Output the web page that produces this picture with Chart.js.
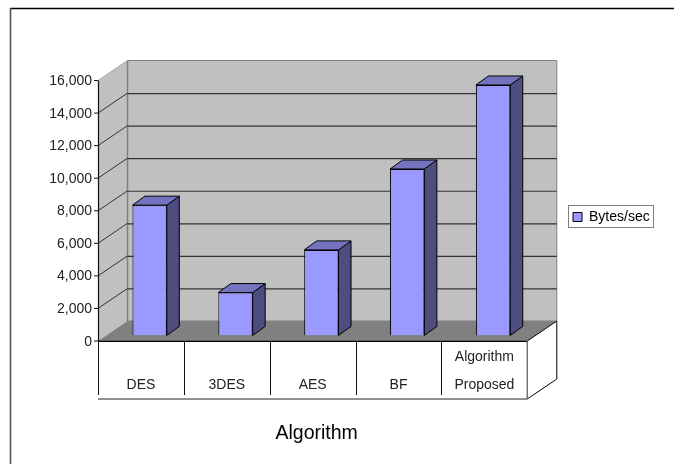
<!DOCTYPE html>
<html><head><meta charset="utf-8">
<style>html,body{margin:0;padding:0;background:#fff}#w{width:674px;height:464px;position:relative}</style>
<script src="https://cdn.jsdelivr.net/npm/chart.js@4"></script>
</head><body><div id="w"><canvas id="c" width="674" height="464"></canvas></div>
<script>
const categories = [['', 'DES'], ['', '3DES'], ['', 'AES'], ['', 'BF'], ['Algorithm', 'Proposed']];
const bytesPerSec = [8000, 2630, 5250, 10220, 15380];
const yTicks = [0, 2000, 4000, 6000, 8000, 10000, 12000, 14000, 16000];
const seriesName = 'Bytes/sec';
const axisTitle = 'Algorithm';

const DX = 29.5, DY = -20;      // wall depth
const BX = 8.7, BY = -5.6;      // bar front-plane shift
const SX = 12.5, SY = -9;       // bar side depth

function poly(ctx, pts, fill, stroke, lw) {
  ctx.beginPath();
  pts.forEach((p, i) => i ? ctx.lineTo(p[0], p[1]) : ctx.moveTo(p[0], p[1]));
  ctx.closePath();
  if (fill) { ctx.fillStyle = fill; ctx.fill(); }
  if (stroke) { ctx.strokeStyle = stroke; ctx.lineWidth = lw || 1; ctx.stroke(); }
}
function line(ctx, x1, y1, x2, y2, c, lw) {
  ctx.beginPath(); ctx.moveTo(x1, y1); ctx.lineTo(x2, y2);
  ctx.strokeStyle = c; ctx.lineWidth = lw || 1; ctx.stroke();
}
const place = {
  id: 'place',
  afterLayout(chart) {
    const l = chart.legend;
    l.width = 86; l.height = 23;
    l.left = 568; l.right = l.left + l.width; l.top = 205; l.bottom = l.top + l.height;
    chart.scales.x.right += 8;   // centres the axis title under the 3D floor
  }
};
const scene = {
  id: 'scene',
  beforeDraw(chart) {
    const c = chart.ctx, a = chart.chartArea, xs = chart.scales.x, ys = chart.scales.y;
    const L = a.left, R = a.right, T = ys.getPixelForValue(16000), B = ys.getPixelForValue(0);
    c.save();
    // chart frame
    line(c, 10, 8.5, 674, 8.5, '#000', 1.4);
    line(c, 10.5, 8, 10.5, 464, '#555', 1.6);
    // walls and floor
    poly(c, [[L + DX, T + DY], [R + DX, T + DY], [R + DX, B + DY], [L + DX, B + DY]], '#c0c0c0', '#808080', 1);
    poly(c, [[L, T], [L + DX, T + DY], [L + DX, B + DY], [L, B]], '#c0c0c0', null);
    line(c, L, T, L + DX, T + DY, '#a8a8a8', 1);
    poly(c, [[L, B], [L + DX, B + DY], [R + DX, B + DY], [R, B]], '#808080', null);
    line(c, L + DX, T + DY, L + DX, B + DY, '#808080', 1.5);
    // gridlines
    yTicks.forEach(v => {
      if (v === 0 || v === 16000) return;
      const y = ys.getPixelForValue(v);
      line(c, L, y, L + DX, y + DY, '#333', 1);
      line(c, L + DX, y + DY + .5, R + DX, y + DY + .5, '#333', 1.2);
    });
    // category table
    const W = xs.getPixelForValue(0) - L;
    poly(c, [[R, B], [R + DX, B + DY], [R + DX, B + DY + 58], [R, B + 58]], '#fff', '#000', 1);
    line(c, L, B + .3, R, B + .3, '#000', 1.2);
    line(c, L, B + 58, R, B + 58, '#222', 1);
    categories.forEach((_, i) => {
      const x = Math.round(xs.getPixelForValue(i) - W) + .5;
      line(c, x, B, x, B + 54, '#111', 1);
    });
    line(c, R, B, R, B + 58, '#808080', 1);
    line(c, L + .5, T, L + .5, B, '#111', 1.2);
    yTicks.forEach(v => {
      const y = ys.getPixelForValue(v);
      line(c, L - 4, y, L, y, '#111', 1);
    });
    c.restore();
  },
  beforeDatasetsDraw(chart) {
    const c = chart.ctx;
    c.save();
    c.translate(BX, BY);
    // bar depth faces, shifted onto the bar plane
    chart.getDatasetMeta(0).data.forEach(b => {
      const l = b.x - b.width / 2, r = b.x + b.width / 2, t = b.y, bs = b.base;
      poly(c, [[r, t], [r + SX, t + SY], [r + SX, bs + SY], [r, bs]], '#4d4d80', '#000', 1);
      poly(c, [[l, t], [l + SX, t + SY], [r + SX, t + SY], [r, t]], '#7373bf', '#000', 1);
    });
  },
  afterDatasetsDraw(chart) {
    chart.ctx.restore();
  },
  afterDraw(chart) {
    const l = chart.legend, c = chart.ctx;
    c.save();
    c.strokeStyle = '#808080'; c.lineWidth = 1;
    c.strokeRect(l.left + .5, l.top + .5, l.width - 1, l.height - 1);
    c.restore();
  }
};

new Chart(document.getElementById('c'), {
  type: 'bar',
  data: {
    labels: categories,
    datasets: [{
      label: seriesName,
      data: bytesPerSec,
      backgroundColor: '#9999ff',
      borderColor: '#000',
      borderWidth: 1,
      categoryPercentage: 1,
      barPercentage: 0.4
    }]
  },
  plugins: [place, scene],
  options: {
    responsive: false,
    animation: false,
    layout: { padding: { left: 0, top: 80.5, right: 55, bottom: 0 } },
    plugins: {
      tooltip: { enabled: false },
      legend: {
        position: 'right',
        align: 'start',
        labels: {
          boxWidth: 9, boxHeight: 9, padding: 5,
          color: '#222',
          font: { family: '"Liberation Sans", Arial, sans-serif', size: 14 },
          generateLabels(ch) {
            return [{ text: seriesName, fillStyle: '#9999ff', strokeStyle: '#000', lineWidth: 1, datasetIndex: 0 }];
          }
        }
      }
    },
    scales: {
      x: {
        grid: { display: false, drawTicks: false },
        border: { display: false },
        afterFit(s) { s.height = 123; },
        ticks: {
          color: '#222', maxRotation: 0, autoSkip: false, padding: 2,
          font: { family: '"Liberation Sans", Arial, sans-serif', size: 14, lineHeight: 2 }
        },
        title: {
          display: true, text: axisTitle, color: '#000',
          font: { family: '"Liberation Sans", Arial, sans-serif', size: 19.5 },
          padding: { top: 14, bottom: 19 }
        }
      },
      y: {
        min: 0, max: 16000,
        afterFit(s) { s.width = 98; },
        grid: { display: false, drawTicks: false },
        border: { display: false },
        afterBuildTicks(s) { s.ticks = yTicks.map(v => ({ value: v })); },
        ticks: {
          color: '#222', padding: 6, labelOffset: 0.7,
          font: { family: '"Liberation Sans", Arial, sans-serif', size: 14 },
          callback: v => v.toLocaleString('en-US')
        }
      }
    }
  }
});
</script></body></html>
